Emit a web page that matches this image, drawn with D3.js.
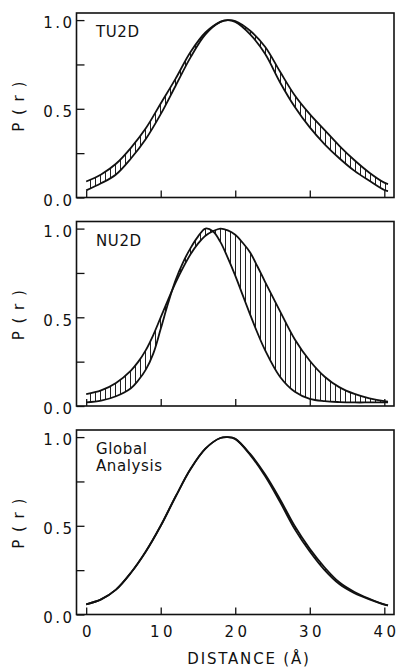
<!DOCTYPE html>
<html>
<head>
<meta charset="utf-8">
<script src="https://cdn.jsdelivr.net/npm/d3@7"></script>
<style>
body { margin: 0; background: #fff; }
svg text { font-family: "DejaVu Sans", sans-serif; fill: #111; }
</style>
</head>
<body>
<svg id="chart" width="400" height="668"></svg>
<script>
// P(r) curves, distance in Angstrom
const tuDist  = [0, 2, 4, 6, 8, 10, 12, 14, 16, 18, 19, 20, 22, 24, 26, 28, 30, 32, 34, 36, 38, 40, 40.5];
const tuUpper = [0.09, 0.13, 0.19, 0.28, 0.39, 0.53, 0.67, 0.82, 0.93, 0.99, 1.0, 0.995, 0.94, 0.85, 0.71, 0.575, 0.47, 0.38, 0.29, 0.21, 0.14, 0.084, 0.076];
const tuLower = [0.04, 0.08, 0.13, 0.22, 0.33, 0.47, 0.63, 0.79, 0.92, 0.99, 1.0, 0.99, 0.92, 0.81, 0.65, 0.51, 0.395, 0.30, 0.22, 0.15, 0.094, 0.042, 0.036];

const nuDist   = [0, 2, 4, 6, 7, 8, 9, 10, 11, 12, 13, 14, 15, 16, 17, 18, 19, 20, 21, 22, 23, 24, 26, 28, 30, 32, 34, 36, 38, 40, 40.5];
const nuBroad  = [0.067, 0.088, 0.13, 0.20, 0.25, 0.315, 0.40, 0.50, 0.60, 0.695, 0.78, 0.855, 0.915, 0.96, 0.985, 1.0, 0.99, 0.965, 0.92, 0.865, 0.785, 0.70, 0.535, 0.375, 0.255, 0.165, 0.105, 0.068, 0.043, 0.027, 0.025];
const nuNarrow = [0.02, 0.03, 0.055, 0.10, 0.145, 0.205, 0.295, 0.435, 0.58, 0.71, 0.81, 0.89, 0.955, 1.0, 0.985, 0.925, 0.835, 0.735, 0.625, 0.515, 0.41, 0.315, 0.165, 0.08, 0.04, 0.027, 0.022, 0.02, 0.02, 0.02, 0.02];

const gaDist  = [0, 2, 4, 6, 8, 10, 12, 14, 16, 18, 19, 20, 22, 24, 26, 28, 30, 32, 34, 36, 38, 40, 40.5];
const gaUpper = [0.057, 0.085, 0.14, 0.235, 0.355, 0.50, 0.665, 0.82, 0.935, 0.995, 1.0, 0.99, 0.905, 0.79, 0.65, 0.497, 0.37, 0.265, 0.18, 0.127, 0.089, 0.057, 0.052];
const gaLower = [0.057, 0.085, 0.14, 0.235, 0.355, 0.50, 0.665, 0.82, 0.935, 0.995, 1.0, 0.99, 0.90, 0.78, 0.635, 0.48, 0.355, 0.25, 0.17, 0.12, 0.085, 0.056, 0.052];

const panelNames = [["TU2D"], ["NU2D"], ["Global", "Analysis"]];
const xTicks = [0, 10, 20, 30, 40];
const yTicks = [0, 0.25, 0.5, 0.75, 1.0];
const yLabelTicks = [0, 0.5, 1.0];

const panels = [
    {dist: tuDist, a: tuUpper, b: tuLower, name: panelNames[0]},
    {dist: nuDist, a: nuBroad, b: nuNarrow, name: panelNames[1]},
    {dist: gaDist, a: gaUpper, b: gaLower, name: panelNames[2]},
];

const frame = {left: 76.5, right: 394, top: 13, height: 184.5, step: 208.5};

const svg = d3.select("#chart");

// vertical hatching between the two curves
svg.append("defs").append("pattern")
    .attr("id", "hatch")
    .attr("patternUnits", "userSpaceOnUse")
    .attr("width", 5)
    .attr("height", 10)
    .append("line")
    .attr("x1", 0.5).attr("x2", 0.5)
    .attr("y1", 0).attr("y2", 10)
    .attr("stroke", "#222")
    .attr("stroke-width", 1);

const xScale = d3.scaleLinear()
    .domain([-1.3, 41.3])
    .range([frame.left, frame.right]);

const curve = d3.curveCatmullRom.alpha(0.5);

panels.forEach((p, i) => {
    const top = frame.top + i * frame.step;
    const yScale = d3.scaleLinear()
        .domain([0, 1.04])
        .range([top + frame.height, top]);

    const g = svg.append("g");
    const pts = p.dist.map((d, j) => ({x: d, a: p.a[j], b: p.b[j]}));

    g.append("path")
        .datum(pts)
        .attr("d", d3.area().x(d => xScale(d.x)).y0(d => yScale(d.b)).y1(d => yScale(d.a)).curve(curve))
        .attr("fill", "url(#hatch)");

    ["a", "b"].forEach(k => {
        g.append("path")
            .datum(pts)
            .attr("d", d3.line().x(d => xScale(d.x)).y(d => yScale(d[k])).curve(curve))
            .attr("fill", "none")
            .attr("stroke", "#111")
            .attr("stroke-width", 1.8);
    });

    g.append("rect")
        .attr("x", frame.left)
        .attr("y", top)
        .attr("width", frame.right - frame.left)
        .attr("height", frame.height)
        .attr("fill", "none")
        .attr("stroke", "#111")
        .attr("stroke-width", 1.6);

    // ticks point inward
    const xAxis = g.append("g")
        .attr("transform", `translate(0,${top + frame.height})`)
        .call(d3.axisBottom(xScale).tickValues(xTicks).tickSize(-7).tickPadding(12)
            .tickFormat(d => i === 2 ? d : ""));
    const yAxis = g.append("g")
        .attr("transform", `translate(${frame.left},0)`)
        .call(d3.axisLeft(yScale).tickValues(yTicks).tickSize(-8).tickPadding(2)
            .tickFormat(d => yLabelTicks.includes(d) ? d.toFixed(1) : ""));

    [xAxis, yAxis].forEach(ax => {
        ax.select(".domain").remove();
        ax.selectAll("line").attr("stroke", "#111").attr("stroke-width", 1.3);
        ax.attr("font-family", null).attr("font-size", null);
    });
    xAxis.selectAll("text")
        .attr("font-size", 15)
        .attr("letter-spacing", 3.5)
        .attr("dx", 1.75);
    yAxis.selectAll("text")
        .attr("font-size", 15)
        .attr("letter-spacing", 2.5)
        .attr("dy", "0.52em");

    // panel name
    p.name.forEach((t, j) => {
        g.append("text")
            .attr("x", 96)
            .attr("y", top + 24 + j * 17)
            .attr("font-size", 15)
            .attr("letter-spacing", 0.6)
            .text(t);
    });

    g.append("text")
        .attr("transform", `translate(19,${top + 93}) rotate(-90)`)
        .attr("text-anchor", "middle")
        .attr("dominant-baseline", "central")
        .attr("font-size", 15)
        .attr("letter-spacing", 1.5)
        .text("P ( r )");
});

svg.append("text")
    .attr("x", 249)
    .attr("y", 664)
    .attr("text-anchor", "middle")
    .attr("font-size", 15)
    .attr("letter-spacing", 1.8)
    .text("DISTANCE (Å)");
</script>
</body>
</html>
